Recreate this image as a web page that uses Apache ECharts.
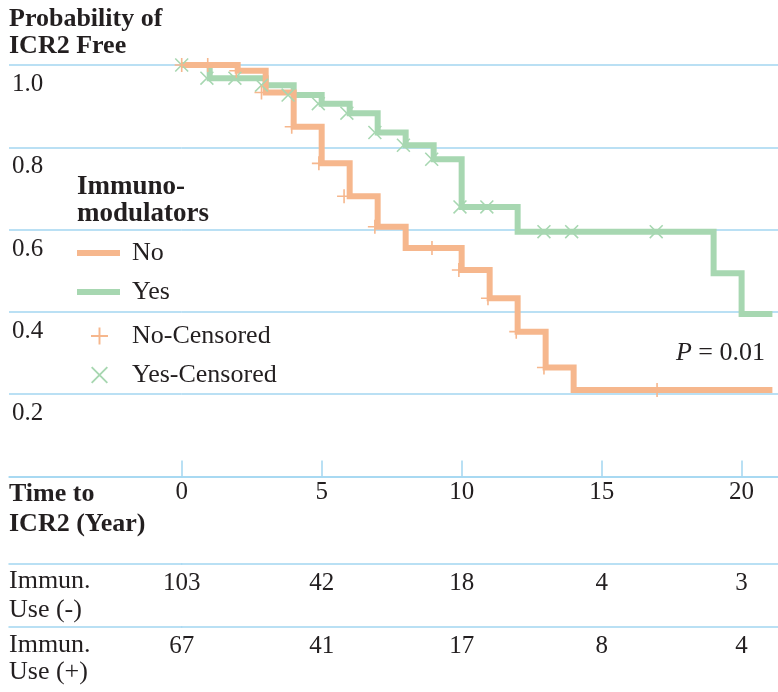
<!DOCTYPE html>
<html><head><meta charset="utf-8">
<script src="https://cdn.jsdelivr.net/npm/echarts@6/dist/echarts.min.js"></script>
<style>html,body{margin:0;padding:0;background:#fff}#c{width:778px;height:692px}</style>
</head><body><div id="c"></div>
<script>
// Kaplan-Meier step data (time in years, probability ICR2 free)
const noTimes  = [0, 2, 3, 4, 5, 6, 7, 8, 10, 11, 12, 13, 14, 21.1];
const noSurv   = [1.0, 0.986, 0.933, 0.850, 0.761, 0.681, 0.607, 0.555, 0.502, 0.433, 0.352, 0.265, 0.210, 0.210];
const yesTimes = [0, 1, 3, 4, 5, 6, 7, 8, 9, 10, 12, 19, 20, 21.1];
const yesSurv  = [1.0, 0.968, 0.951, 0.927, 0.906, 0.883, 0.836, 0.805, 0.771, 0.655, 0.595, 0.494, 0.395, 0.395];
// censored observations
const noCensT  = [0, 0.93, 1.95, 2.85, 3.93, 4.9, 5.8, 6.9, 8.94, 9.9, 10.94, 11.95, 12.94, 16.98];
const noCensS  = [1.0, 1.0, 0.986, 0.933, 0.850, 0.761, 0.681, 0.607, 0.555, 0.502, 0.433, 0.352, 0.265, 0.210];
const yesCensT = [0, 0.9, 1.9, 2.85, 3.8, 4.88, 5.9, 6.9, 7.92, 8.93, 9.94, 10.9, 12.94, 13.93, 16.95];
const yesCensS = [1.0, 0.968, 0.968, 0.951, 0.927, 0.906, 0.883, 0.836, 0.805, 0.771, 0.655, 0.655, 0.595, 0.595, 0.595];
// axis ticks & number-at-risk table
const xTicks = [0, 5, 10, 15, 20];
const yTicks = [0.2, 0.4, 0.6, 0.8, 1.0];
const atRiskMinus = [103, 42, 18, 4, 3];
const atRiskPlus  = [67, 41, 17, 8, 4];

const ORANGE = '#f6b78d', GREEN = '#a7d7b1', BLUE = '#a3d6f1', TXT = '#231f20';
const FONT = 'Liberation Serif';
const PLUS = 'path://M0,6.2H14V7.8H0Z M6.2,0H7.8V14H6.2Z';
const CROSS = 'path://M0,1.1L1.1,0L14,12.9L12.9,14Z M12.9,0L14,1.1L1.1,14L0,12.9Z';

const pair = (ts, ss) => ts.map((t, i) => [t, ss[i]]);
const ts = {fontFamily: FONT, fontSize: 25, color: TXT};
const ts26 = {fontFamily: FONT, fontSize: 26, color: TXT};

const chart = echarts.init(document.getElementById('c'), null, {renderer: 'canvas'});
const GTOP = 65, GH = 411.5, X0 = 181.7, XMAX = 21.3;

function countAxis(grid, offset, arr) {
  return {
    type: 'value', gridIndex: grid, position: 'bottom', offset: offset,
    min: 0, max: grid === 0 ? XMAX : 1, interval: grid === 0 ? 5 : 1,
    axisLine: {show: true, lineStyle: {color: BLUE, width: 1.5}},
    axisTick: {show: false}, splitLine: {show: false},
    axisLabel: arr ? {show: true, margin: 7, ...ts, customValues: xTicks,
      formatter: v => { const k = xTicks.indexOf(v); return k >= 0 ? String(arr[k]) : ''; }} : {show: false}
  };
}

chart.setOption({
  animation: false,
  backgroundColor: '#fff',
  title: {
    text: 'Probability of\nICR2 Free', left: 9, top: 6, padding: 0,
    textStyle: {fontFamily: FONT, fontSize: 26, fontWeight: 'bold', color: TXT, lineHeight: 27}
  },
  grid: [
    {left: X0, right: 0, top: GTOP, height: GH, containLabel: false},
    {left: 9, top: GTOP, width: X0 - 9, height: GH, containLabel: false}
  ],
  xAxis: [
    {
      type: 'value', gridIndex: 0, min: 0, max: XMAX, interval: 5,
      axisLine: {show: true, lineStyle: {color: BLUE, width: 1.5}},
      axisTick: {show: true, inside: true, length: 16, customValues: xTicks, lineStyle: {color: BLUE, width: 1.5}},
      splitLine: {show: false},
      axisLabel: {show: true, margin: 3, ...ts, customValues: xTicks,
        formatter: v => xTicks.indexOf(v) >= 0 ? String(v) : ''}
    },
    {
      type: 'value', gridIndex: 1, min: 0, max: 1,
      axisLine: {show: true, lineStyle: {color: BLUE, width: 1.5}},
      axisTick: {show: false}, axisLabel: {show: false}, splitLine: {show: false}
    },
    countAxis(0, 87, atRiskMinus),
    countAxis(0, 150.5, atRiskPlus),
    countAxis(1, 87, null),
    countAxis(1, 150.5, null)
  ],
  yAxis: [
    {
      type: 'value', gridIndex: 0, min: 0, max: 1, interval: 0.2,
      axisLine: {show: false}, axisTick: {show: false}, axisLabel: {show: false},
      splitLine: {show: true, lineStyle: {color: BLUE, width: 1.5}}
    },
    {
      type: 'value', gridIndex: 1, min: 0, max: 1, interval: 0.2,
      axisLine: {show: false}, axisTick: {show: false},
      splitLine: {show: true, lineStyle: {color: BLUE, width: 1.5}},
      axisLabel: {show: true, inside: true, margin: 3, align: 'left', verticalAlign: 'top',
        padding: [7, 0, 0, 0], ...ts,
        formatter: v => { const k = yTicks.findIndex(y => Math.abs(y - v) < 1e-6); return k >= 0 ? yTicks[k].toFixed(1) : ''; }}
    }
  ],
  legend: [
    {
      data: [{name: 'No', icon: 'rect'}, {name: 'Yes', icon: 'rect'}],
      orient: 'vertical', left: 77, top: 240, padding: 0, itemWidth: 43, itemHeight: 6, itemGap: 13,
      selectedMode: false, textStyle: {...ts26, padding: [0, 0, 0, 7]}
    },
    {
      data: [{name: 'No-Censored', icon: PLUS}, {name: 'Yes-Censored', icon: CROSS}],
      orient: 'vertical', left: 91, top: 323, padding: 0, itemWidth: 17, itemHeight: 17, itemGap: 13,
      selectedMode: false, textStyle: {...ts26, padding: [0, 0, 0, 19]}
    }
  ],
  graphic: [
    {type: 'text', left: 77, top: 174, style: {text: 'Immuno-\nmodulators', fontFamily: FONT, fontSize: 27, fontWeight: 'bold', fill: TXT, lineHeight: 27}},
    {type: 'text', right: 13, top: 340, style: {text: '{i|P} = 0.01', fontFamily: FONT, fontSize: 26, fill: TXT,
      rich: {i: {fontFamily: FONT, fontSize: 26, fontStyle: 'italic', fill: TXT}}}},
    {type: 'text', left: 9, top: 479, style: {text: 'Time to\nICR2 (Year)', fontFamily: FONT, fontSize: 26, fontWeight: 'bold', fill: TXT, lineHeight: 30}},
    {type: 'text', left: 9, top: 567, style: {text: 'Immun.\nUse (-)', fontFamily: FONT, fontSize: 26, fill: TXT, lineHeight: 29}},
    {type: 'text', left: 9, top: 632, style: {text: 'Immun.\nUse (+)', fontFamily: FONT, fontSize: 26, fill: TXT, lineHeight: 27}}
  ],
  series: [
    {name: 'Yes', type: 'line', xAxisIndex: 0, yAxisIndex: 0, step: 'end', symbol: 'none',
      data: pair(yesTimes, yesSurv), itemStyle: {color: GREEN},
      lineStyle: {color: GREEN, width: 6, join: 'miter', cap: 'butt'}, z: 2},
    {name: 'No', type: 'line', xAxisIndex: 0, yAxisIndex: 0, step: 'end', symbol: 'none',
      data: pair(noTimes, noSurv), itemStyle: {color: ORANGE},
      lineStyle: {color: ORANGE, width: 6, join: 'miter', cap: 'butt'}, z: 3},
    {name: 'Yes-Censored', type: 'scatter', xAxisIndex: 0, yAxisIndex: 0, symbol: CROSS, symbolSize: 14,
      data: pair(yesCensT, yesCensS), itemStyle: {color: GREEN, opacity: 1}, z: 4},
    {name: 'No-Censored', type: 'scatter', xAxisIndex: 0, yAxisIndex: 0, symbol: PLUS, symbolSize: 14,
      data: pair(noCensT, noCensS), itemStyle: {color: ORANGE, opacity: 1}, z: 5}
  ]
});
</script></body></html>
